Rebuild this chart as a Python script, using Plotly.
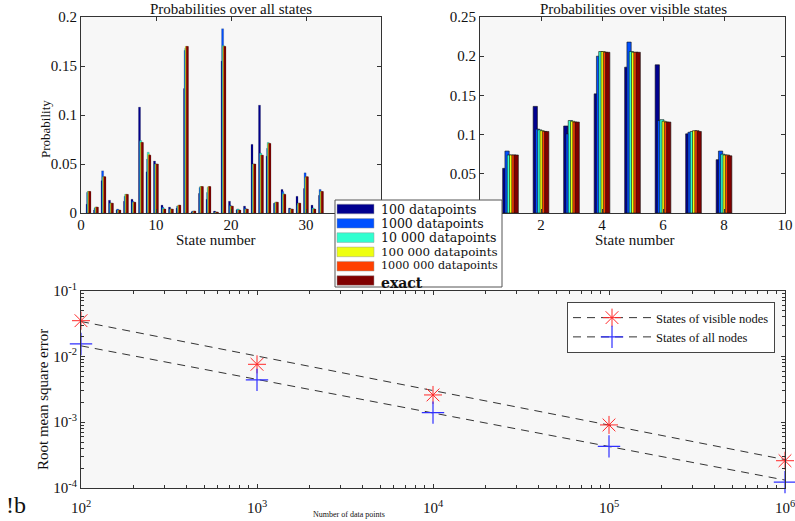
import plotly.graph_objects as go

W, H = 795, 521

# ---------------- data ----------------
series_names = ["100 datapoints", "1000 datapoints", "10 000 datapoints",
                "100 000 datapoints", "1000 000 datapoints", "exact"]
series_colors = ["#00008F", "#0050FF", "#30FFD0", "#EEFF10", "#FF4000", "#800000"]

all_states = list(range(1, 33))
all_100 = [0.009, 0.003, 0.033, 0.013, 0.003, 0.012, 0.014, 0.108, 0.042, 0.053, 0.008, 0.006, 0.005, 0.127, 0.001, 0.020,
           0.014, 0.002, 0.155, 0.012, 0.003, 0.007, 0.070, 0.110, 0.058, 0.010, 0.024, 0.005, 0.017, 0.025, 0.008, 0.018]
all_1000 = [0.021, 0.005, 0.043, 0.010, 0.004, 0.017, 0.012, 0.073, 0.055, 0.050, 0.006, 0.004, 0.007, 0.166, 0.002, 0.026,
            0.021, 0.001, 0.188, 0.008, 0.004, 0.005, 0.050, 0.061, 0.066, 0.010, 0.022, 0.004, 0.008, 0.041, 0.005, 0.024]
all_10k = [0.022, 0.006, 0.037, 0.010, 0.003, 0.019, 0.011, 0.074, 0.062, 0.050, 0.005, 0.004, 0.007, 0.168, 0.001, 0.027,
           0.026, 0.001, 0.171, 0.007, 0.004, 0.004, 0.050, 0.061, 0.072, 0.011, 0.020, 0.004, 0.010, 0.036, 0.005, 0.022]
all_100k = [0.022, 0.006, 0.037, 0.010, 0.003, 0.019, 0.011, 0.072, 0.060, 0.050, 0.004, 0.004, 0.008, 0.170, 0.002, 0.027,
            0.027, 0.001, 0.170, 0.007, 0.003, 0.004, 0.050, 0.059, 0.071, 0.011, 0.019, 0.004, 0.010, 0.037, 0.004, 0.022]
all_1M = [0.022, 0.006, 0.037, 0.010, 0.003, 0.019, 0.011, 0.072, 0.059, 0.050, 0.004, 0.004, 0.008, 0.170, 0.002, 0.027,
          0.027, 0.001, 0.170, 0.007, 0.003, 0.004, 0.050, 0.059, 0.071, 0.011, 0.019, 0.004, 0.010, 0.037, 0.004, 0.022]
all_exact = [0.022, 0.006, 0.037, 0.010, 0.003, 0.019, 0.011, 0.072, 0.059, 0.050, 0.004, 0.004, 0.008, 0.170, 0.002, 0.027,
             0.027, 0.001, 0.170, 0.007, 0.003, 0.004, 0.050, 0.059, 0.071, 0.011, 0.019, 0.004, 0.010, 0.037, 0.004, 0.022]

vis_states = list(range(1, 9))
vis_100 = [0.057, 0.136, 0.111, 0.152, 0.186, 0.189, 0.101, 0.068]
vis_1000 = [0.079, 0.107, 0.101, 0.200, 0.218, 0.118, 0.103, 0.079]
vis_10k = [0.074, 0.106, 0.118, 0.206, 0.206, 0.119, 0.104, 0.075]
vis_100k = [0.074, 0.105, 0.117, 0.206, 0.205, 0.117, 0.105, 0.074]
vis_1M = [0.074, 0.104, 0.116, 0.205, 0.205, 0.116, 0.105, 0.074]
vis_exact = [0.074, 0.104, 0.116, 0.205, 0.205, 0.116, 0.104, 0.073]

n_points = [1e2, 1e3, 1e4, 1e5, 1e6]
rmse_visible = [0.035, 0.0076, 0.0026, 0.00091, 0.00026]
rmse_all = [0.0155, 0.0044, 0.0014, 0.00043, 0.000123]
fit_n = [1e2, 1e6]
fit_visible = [0.034, 0.00027]
fit_all = [0.0145, 0.000132]

x_log_ticks = [1e2, 1e3, 1e4, 1e5, 1e6]
x_log_labels = ["10<sup>2</sup>", "10<sup>3</sup>", "10<sup>4</sup>", "10<sup>5</sup>", "10<sup>6</sup>"]
y_log_ticks = [1e-4, 1e-3, 1e-2, 1e-1]
y_log_labels = ["10<sup>-4</sup>", "10<sup>-3</sup>", "10<sup>-2</sup>", "10<sup>-1</sup>"]

all_series = [all_100, all_1000, all_10k, all_100k, all_1M, all_exact]
vis_series = [vis_100, vis_1000, vis_10k, vis_100k, vis_1M, vis_exact]

# ---------------- figure ----------------
SERIF = "Liberation Serif, Times New Roman, DejaVu Serif, serif"
LEGSERIF = "DejaVu Serif, serif"
fig = go.Figure()


def px_x(p):
    return p / W


def px_y(p):
    return 1 - p / H


# left bars (overlapping grouped bars, MATLAB style)
lw, lstep = 0.27, 0.08
lspan = 5 * lstep + lw
for i, (vals, col) in enumerate(zip(all_series, series_colors)):
    fig.add_trace(go.Bar(x=all_states, y=vals, width=lw, offset=-lspan / 2 + i * lstep,
                         marker=dict(color=col, line=dict(color="#202020", width=0.2)),
                         showlegend=False, xaxis="x", yaxis="y"))
# right bars
rw, rstep = 0.14, 0.075
rspan = 5 * rstep + rw
for i, (vals, col) in enumerate(zip(vis_series, series_colors)):
    fig.add_trace(go.Bar(x=vis_states, y=vals, width=rw, offset=-rspan / 2 + i * rstep,
                         marker=dict(color=col, line=dict(color="#101010", width=0.6)),
                         showlegend=False, xaxis="x2", yaxis="y2"))

# bottom: fits, markers
DASH = "8px,6px"
fig.add_trace(go.Scatter(x=fit_n, y=fit_visible, mode="lines", line=dict(color="#333333", width=1, dash=DASH),
                         showlegend=False, xaxis="x3", yaxis="y3"))
fig.add_trace(go.Scatter(x=fit_n, y=fit_all, mode="lines", line=dict(color="#333333", width=1, dash=DASH),
                         showlegend=False, xaxis="x3", yaxis="y3"))
mk_vis = dict(symbol="asterisk-open", size=15, color="#FF2828", line=dict(width=1, color="#FF2828"))
mk_all = dict(symbol="cross-thin-open", size=16, color="#3030FF", line=dict(width=1.2, color="#3030FF"))
fig.add_trace(go.Scatter(x=n_points, y=rmse_visible, mode="markers", marker=mk_vis,
                         showlegend=False, xaxis="x3", yaxis="y3", cliponaxis=False))
fig.add_trace(go.Scatter(x=n_points, y=rmse_all, mode="markers", marker=mk_all,
                         showlegend=False, xaxis="x3", yaxis="y3", cliponaxis=False))
fig.add_trace(go.Scatter(x=[None], y=[None], mode="lines+markers", name="States of visible nodes",
                         line=dict(color="#333333", width=1, dash=DASH), marker=mk_vis,
                         legend="legend2", xaxis="x3", yaxis="y3"))
fig.add_trace(go.Scatter(x=[None], y=[None], mode="lines+markers", name="States of all nodes",
                         line=dict(color="#333333", width=1, dash=DASH), marker=mk_all,
                         legend="legend2", xaxis="x3", yaxis="y3"))

axis_common = dict(showline=True, linecolor="#333333", linewidth=1, mirror="ticks", ticks="inside",
                   ticklen=4, tickcolor="#333333", showgrid=False, zeroline=False, automargin=False,
                   tickfont=dict(family=SERIF, size=15, color="#111111"))
minor_common = dict(ticks="inside", ticklen=3, tickcolor="#333333", showgrid=False, dtick="D1")

# ---- manual legend for the bar series (compact MATLAB style) ----
leg_left, leg_top, leg_right, leg_bottom = 335, 200, 502, 287
row_h = 14.3
row0 = 209
leg_sizes = [12.6, 12.5, 12.6, 11.9, 11.2, 14]
text_shift = [0, 0, 0, 0, -0.5, 2.5]
shapes = [dict(type="rect", xref="paper", yref="paper", layer="above",
               x0=px_x(leg_left), x1=px_x(leg_right), y0=px_y(leg_bottom), y1=px_y(leg_top),
               fillcolor="white", line=dict(color="#555555", width=1))]
annotations = []
for i, (name, col) in enumerate(zip(series_names, series_colors)):
    cy = row0 + i * row_h
    shapes.append(dict(type="rect", xref="paper", yref="paper", layer="above",
                       x0=px_x(337), x1=px_x(374), y0=px_y(cy + 4.8), y1=px_y(cy - 4.8),
                       fillcolor=col, line=dict(color="#999999", width=0.5)))
    label = name if name != "exact" else "<b>exact</b>"
    annotations.append(dict(text=label, x=px_x(379), y=px_y(cy + text_shift[i]), xref="paper", yref="paper",
                            xanchor="left", yanchor="middle", showarrow=False,
                            font=dict(family=LEGSERIF, size=leg_sizes[i], color="#111111")))

annotations += [
    dict(text="Probabilities over all states", x=px_x(231), y=px_y(9.5), xref="paper", yref="paper",
         xanchor="center", yanchor="middle", showarrow=False, font=dict(family=SERIF, size=15, color="#111111")),
    dict(text="Probabilities over visible states", x=px_x(633), y=px_y(9.5), xref="paper", yref="paper",
         xanchor="center", yanchor="middle", showarrow=False, font=dict(family=SERIF, size=15, color="#111111")),
    dict(text="State number", x=px_x(216), y=px_y(240), xref="paper", yref="paper",
         xanchor="center", yanchor="middle", showarrow=False, font=dict(family=SERIF, size=15, color="#111111")),
    dict(text="State number", x=px_x(635), y=px_y(240), xref="paper", yref="paper",
         xanchor="center", yanchor="middle", showarrow=False, font=dict(family=SERIF, size=15, color="#111111")),
    dict(text="Probability", x=px_x(45), y=px_y(129), xref="paper", yref="paper", textangle=-90,
         xanchor="center", yanchor="middle", showarrow=False, font=dict(family=SERIF, size=13, color="#111111")),
    dict(text="Root mean square error", x=px_x(43), y=px_y(400), xref="paper", yref="paper", textangle=-90,
         xanchor="center", yanchor="middle", showarrow=False, font=dict(family=SERIF, size=15, color="#111111")),
    dict(text="Number of data points", x=px_x(349), y=px_y(514), xref="paper", yref="paper",
         xanchor="center", yanchor="middle", showarrow=False, font=dict(family=SERIF, size=8, color="#111111")),
    dict(text="!b", x=px_x(4), y=px_y(505), xref="paper", yref="paper",
         xanchor="left", yanchor="middle", showarrow=False, font=dict(family=SERIF, size=24, color="#111111")),
]

fig.update_layout(
    template="none",
    width=W, height=H, margin=dict(l=0, r=0, t=0, b=0, autoexpand=False),
    paper_bgcolor="white", plot_bgcolor="#F7F7F7",
    barmode="overlay",
    xaxis=dict(domain=[px_x(81), px_x(381)], range=[0, 40], tickvals=[0, 10, 20, 30, 40],
               ticktext=["0", "10", "20", "30", ""], ticklabelstandoff=-2, anchor="y", **axis_common),
    yaxis=dict(domain=[px_y(213), px_y(17)], range=[0, 0.2], tickvals=[0, 0.05, 0.1, 0.15, 0.2],
               ticktext=["0", "0.05", "0.1", "0.15", "0.2"], anchor="x", **axis_common),
    xaxis2=dict(domain=[px_x(480), px_x(785)], range=[0, 10], tickvals=[0, 2, 4, 6, 8, 10],
                ticktext=["", "2", "4", "6", "8", "10"], ticklabelstandoff=-2, anchor="y2", **axis_common),
    yaxis2=dict(domain=[px_y(213), px_y(17)], range=[0, 0.25], tickvals=[0, 0.05, 0.1, 0.15, 0.2, 0.25],
                ticktext=["", "0.05", "0.1", "0.15", "0.2", "0.25"], anchor="x2", **axis_common),
    xaxis3=dict(domain=[px_x(81), px_x(785)], type="log", range=[2, 6], tickvals=x_log_ticks,
                ticktext=x_log_labels, ticklabelstandoff=6, ticklabeloverflow="allow", anchor="y3",
                minor=minor_common, **axis_common),
    yaxis3=dict(domain=[px_y(488), px_y(290.7)], type="log", range=[-4, -1], tickvals=y_log_ticks,
                ticktext=y_log_labels, anchor="x3", minor=minor_common, **axis_common),
    legend2=dict(x=px_x(567), y=px_y(302), xanchor="left", yanchor="top", bgcolor="white",
                 bordercolor="#444444", borderwidth=1, itemwidth=78,
                 font=dict(family=SERIF, size=12.5, color="#111111")),
    shapes=shapes,
    annotations=annotations,
)

fig.write_html("out.html")
